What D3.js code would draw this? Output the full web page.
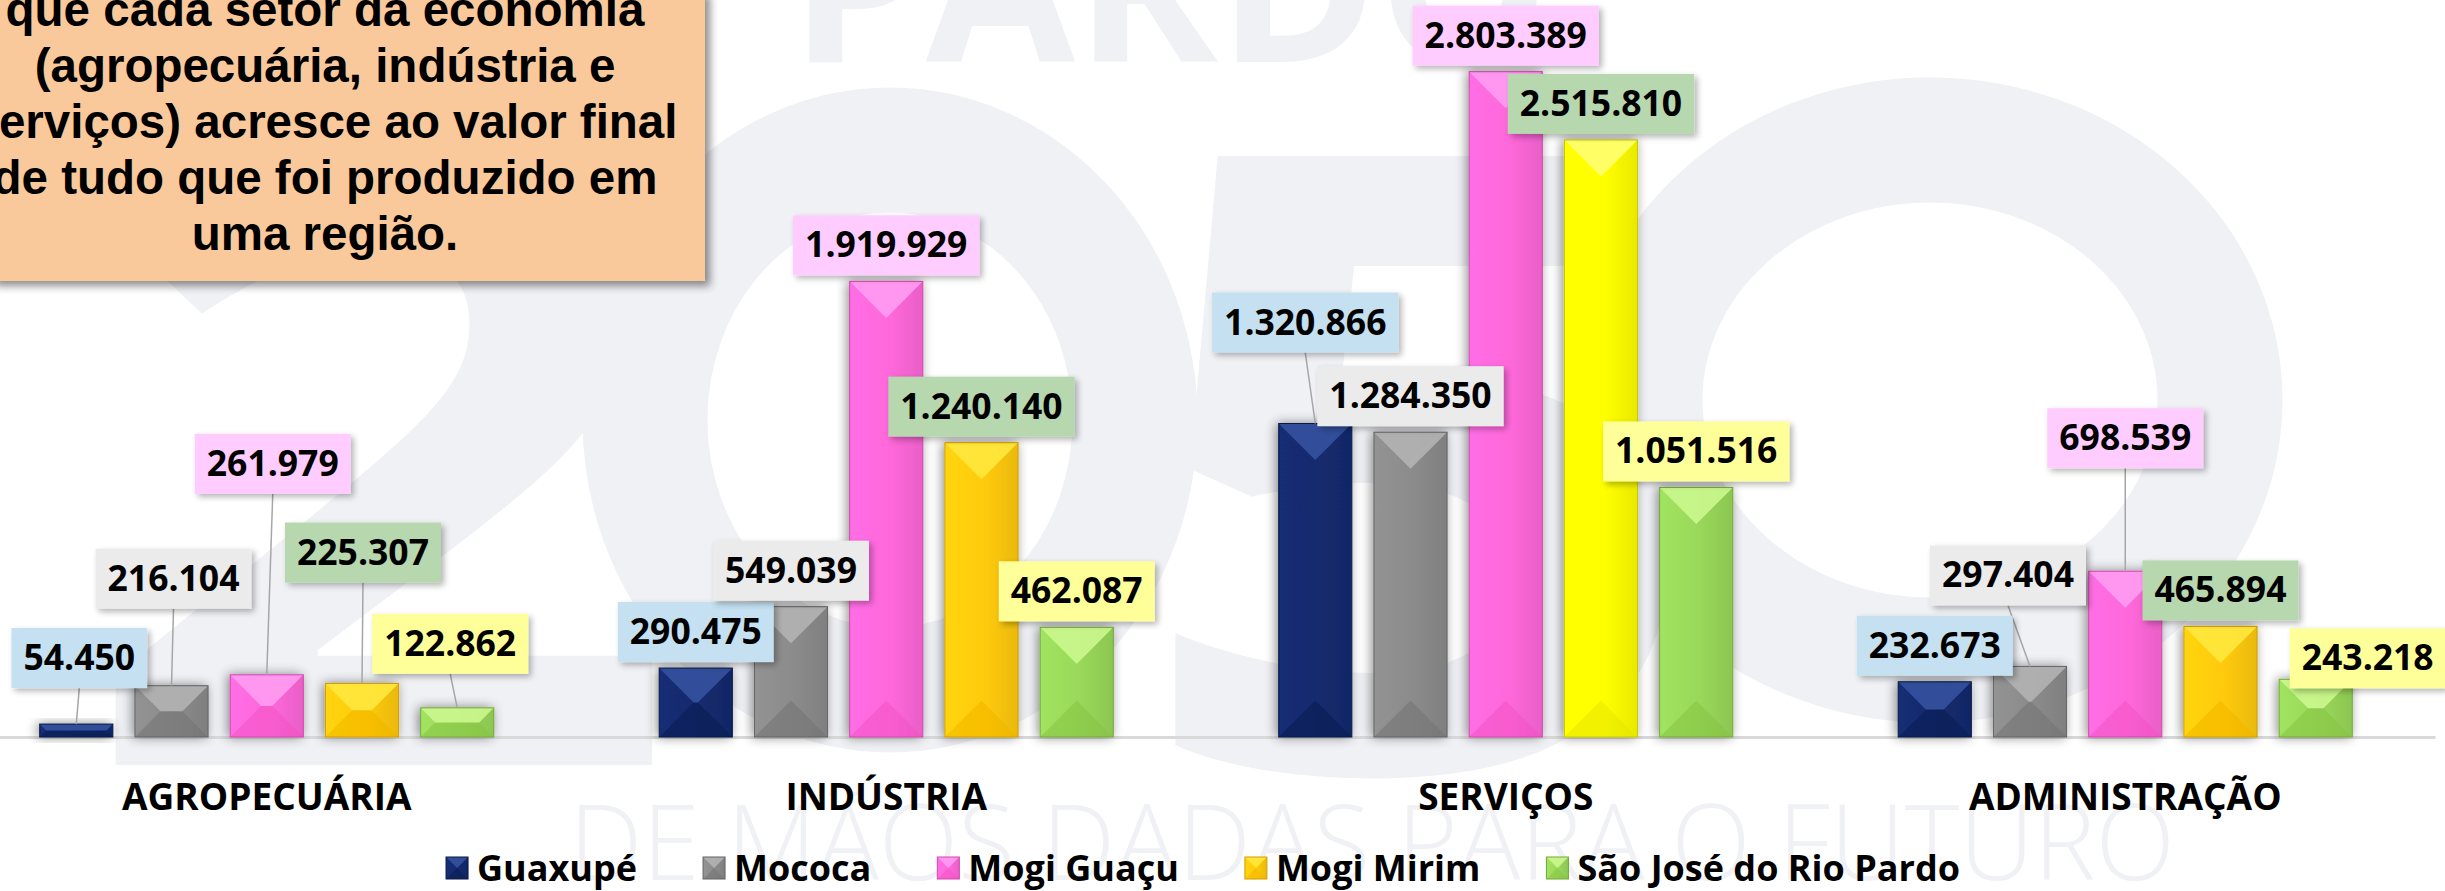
<!DOCTYPE html>
<html>
<head>
<meta charset="utf-8">
<script src="https://cdn.jsdelivr.net/npm/d3@7"></script>
<style>
  body { margin: 0; background: #fff; }
  svg { display: block; }
</style>
</head>
<body>
<svg id="chart"></svg>
<script>
// data
const categories = ["AGROPECUÁRIA", "INDÚSTRIA", "SERVIÇOS", "ADMINISTRAÇÃO"];
const cities = ["Guaxupé", "Mococa", "Mogi Guaçu", "Mogi Mirim", "São José do Rio Pardo"];
const guaxupe = [54450, 290475, 1320866, 232673];
const mococa = [216104, 549039, 1284350, 297404];
const mogiGuacu = [261979, 1919929, 2803389, 698539];
const mogiMirim = [225307, 1240140, 2515810, 465894];
const saoJose = [122862, 462087, 1051516, 243218];
const noteLines = [
  "que cada setor da economia",
  "(agropecuária, indústria e",
  "serviços) acresce ao valor final",
  "de tudo que foi produzido em",
  "uma região."
];

const series = [guaxupe, mococa, mogiGuacu, mogiMirim, saoJose];

// styles
const W = 2445, H = 891;
const barColors = {
  "Guaxupé":               { key: "c0", base: "#132B6E", top: "#34529F", bottom: "#0B1D50" },
  "Mococa":                { key: "c1", base: "#8B8B8B", top: "#B2B2B2", bottom: "#727272" },
  "Mogi Guaçu":            { key: "c2", base: "#FF68DA", top: "#FF9CF2", bottom: "#F252C4" },
  "Mogi Mirim":            { key: "c3", base: "#FFCA0C", top: "#FFE83C", bottom: "#F2B600" },
  "São José do Rio Pardo": { key: "c4", base: "#99D85A", top: "#CBF78E", bottom: "#86C244" }
};
// the services bar of Mogi Mirim is plain yellow in the original
const pointColor = { "SERVIÇOS|Mogi Mirim": { key: "c5", base: "#FFFF00", top: "#FFFF70", bottom: "#E6E600" } };
const labelFill = {
  "Guaxupé": "#C4E0F1",
  "Mococa": "#EBEBEB",
  "Mogi Guaçu": "#FFCCFF",
  "Mogi Mirim": "#B7D7AF",
  "São José do Rio Pardo": "#FFFF9A"
};
// manual label moves [dx, raise] per city, per category
const labelNudge = {
  "Guaxupé":               [[3, 30], [0, 0], [-10, 65], [0, 0]],
  "Mococa":                [[2, 71], [0, 0], [0, 0], [-22, 55]],
  "Mogi Guaçu":            [[6, 175], [0, 0], [0, 0], [0, 97]],
  "Mogi Mirim":            [[1, 95], [0, 0], [0, 0], [0, 0]],
  "São José do Rio Pardo": [[-7, 28], [0, 0], [0, 0], [52, -15]]
};

const fmt = d3.formatLocale({ decimal: ",", thousands: ".", grouping: [3], currency: ["R$", ""] }).format(",d");

const svg = d3.select("#chart").attr("width", W).attr("height", H);
const defs = svg.append("defs");

function shadowFilter(id, dx, dy, sd, slope) {
  const f = defs.append("filter").attr("id", id)
    .attr("x", "-40%").attr("y", "-40%").attr("width", "180%").attr("height", "180%");
  f.append("feGaussianBlur").attr("in", "SourceAlpha").attr("stdDeviation", sd).attr("result", "b");
  f.append("feOffset").attr("in", "b").attr("dx", dx).attr("dy", dy).attr("result", "o");
  f.append("feComponentTransfer").attr("in", "o").attr("result", "s")
    .append("feFuncA").attr("type", "linear").attr("slope", slope);
  const m = f.append("feMerge");
  m.append("feMergeNode").attr("in", "s");
  m.append("feMergeNode").attr("in", "SourceGraphic");
}
shadowFilter("barShadow", -2, 0, 6, 0.45);
shadowFilter("boxShadow", 3, 3, 3, 0.3);
shadowFilter("noteShadow", 5, 5, 4, 0.45);

// horizontal shading for the bar bodies
Object.values(barColors).concat(Object.values(pointColor)).forEach(c => {
  const gr = defs.append("linearGradient").attr("id", "g-" + c.key)
    .attr("x1", 0).attr("x2", 1).attr("y1", 0).attr("y2", 0);
  gr.append("stop").attr("offset", "0%").attr("stop-color", d3.color(c.base).brighter(0.15));
  gr.append("stop").attr("offset", "55%").attr("stop-color", c.base);
  gr.append("stop").attr("offset", "100%").attr("stop-color", d3.color(c.base).darker(0.25));
});

// watermark
const wm = svg.append("g").attr("fill", "#F0F1F5").attr("font-family", "Open Sans").attr("font-weight", 700);
wm.append("text").attr("x", 790).attr("y", 62).attr("font-size", 210)
  .attr("textLength", 760).attr("lengthAdjust", "spacingAndGlyphs").text("PARDO");
wm.append("text").attr("transform", "translate(380,765) scale(1.25,1)").attr("text-anchor", "middle")
  .attr("font-size", 860).text("2");
wm.append("text").attr("transform", "translate(1420,770) scale(1.2,1)").attr("text-anchor", "middle")
  .attr("font-size", 860).text("5");
wm.append("ellipse").attr("cx", 890).attr("cy", 420).attr("rx", 245).attr("ry", 270)
  .attr("fill", "none").attr("stroke", "#F0F1F5").attr("stroke-width", 125);
wm.append("ellipse").attr("cx", 1930).attr("cy", 400).attr("rx", 290).attr("ry", 260)
  .attr("fill", "none").attr("stroke", "#F0F1F5").attr("stroke-width", 125);
wm.append("text").attr("x", 569).attr("y", 880).attr("font-size", 106).attr("font-weight", 300)
  .attr("textLength", 1606).attr("lengthAdjust", "spacingAndGlyphs").text("DE MÃOS DADAS PARA O FUTURO");

// note box
svg.append("rect").attr("x", -10).attr("y", -10).attr("width", 715).attr("height", 291)
  .attr("fill", "#FAC99B").attr("filter", "url(#noteShadow)");
svg.append("g").selectAll("text").data(noteLines).enter().append("text")
  .attr("x", 325).attr("y", (d, i) => 26 + i * 56)
  .attr("text-anchor", "middle")
  .style("font-family", "'Liberation Sans', Arial, sans-serif")
  .style("font-weight", "bold").style("font-size", "47.5px")
  .attr("fill", "#000").text(d => d);

// scales
const x0 = d3.scaleBand().domain(categories).range([-43, 2435]).paddingInner(0.267).paddingOuter(0.1335);
const x1 = d3.scaleBand().domain(cities).range([0, x0.bandwidth()]).paddingInner(0.232);
const y = d3.scaleLinear().domain([0, 3000000]).range([737, 25]);

const xAxis = svg.append("g").attr("transform", "translate(0," + y(0) + ")")
  .call(d3.axisBottom(x0).tickSize(0).tickSizeOuter(0));
xAxis.select(".domain").attr("stroke", "#D9D9D9").attr("stroke-width", 3);
xAxis.selectAll("text")
  .attr("y", 73).attr("dy", 0)
  .attr("fill", "#000")
  .style("font-family", "'Open Sans', sans-serif")
  .style("font-weight", "bold").style("font-size", "37px");

function bevel(sel, x, yTop, w, h, c) {
  const d = Math.min(w, h) / 2;
  const ix0 = x + d, ix1 = x + w - d, iy0 = yTop + d, iy1 = yTop + h - d;
  sel.append("rect").attr("x", x).attr("y", yTop).attr("width", w).attr("height", h)
    .attr("fill", "url(#g-" + c.key + ")");
  const faces = [
    { pts: [[x, yTop + h], [x + w, yTop + h], [ix1, iy1], [ix0, iy1]], fill: c.bottom, op: 0.55 },
    { pts: [[x, yTop], [x + w, yTop], [ix1, iy0], [ix0, iy0]], fill: c.top, op: 0.9 }
  ];
  sel.selectAll("path.face").data(faces).enter().append("path")
    .attr("class", "face")
    .attr("d", f => "M" + f.pts.map(p => p.join(",")).join("L") + "Z")
    .attr("fill", f => f.fill).attr("fill-opacity", f => f.op);
  sel.append("rect").attr("x", x).attr("y", yTop).attr("width", w).attr("height", h)
    .attr("fill", "none").attr("stroke", d3.color(c.bottom).darker(0.4)).attr("stroke-width", 1);
}

// bars
const rows = [];
categories.forEach((cat, ci) => {
  cities.forEach((city, si) => {
    rows.push({ cat, ci, city, value: series[si][ci] });
  });
});

const barLayer = svg.append("g");
rows.forEach(r => {
  const bx = x0(r.cat) + x1(r.city);
  const c = pointColor[r.cat + "|" + r.city] || barColors[r.city];
  const g = barLayer.append("g").attr("filter", "url(#barShadow)");
  bevel(g, bx, y(r.value), x1.bandwidth(), y(0) - y(r.value), c);
});

// data labels
const lineLayer = svg.append("g");
const labelLayer = svg.append("g");
rows.forEach(r => {
  const barCx = x0(r.cat) + x1(r.city) + x1.bandwidth() / 2;
  const nudge = labelNudge[r.city][r.ci];
  const cx = barCx + nudge[0];
  const bottom = y(r.value) - 6 - nudge[1];
  const boxH = 60;
  const g = labelLayer.append("g");
  const t = g.append("text")
    .attr("x", cx).attr("y", bottom - boxH + 42)
    .attr("text-anchor", "middle")
    .style("font-family", "'Open Sans', sans-serif")
    .style("font-weight", "bold").style("font-size", "35.5px")
    .attr("fill", "#000").text(fmt(r.value));
  const tw = t.node().getComputedTextLength();
  g.insert("rect", "text")
    .attr("x", cx - tw / 2 - 12).attr("y", bottom - boxH)
    .attr("width", tw + 24).attr("height", boxH)
    .attr("fill", labelFill[r.city]).attr("filter", "url(#boxShadow)");
  if (nudge[1] > 15) {
    lineLayer.append("line")
      .attr("x1", cx).attr("y1", bottom)
      .attr("x2", barCx).attr("y2", y(r.value))
      .attr("stroke", "#A6A6A6").attr("stroke-width", 1.5);
  }
});

// legend
const legend = svg.append("g");
const legendItems = legend.selectAll("g").data(cities).enter().append("g");
legendItems.each(function (city) {
  const g = d3.select(this);
  bevel(g.append("g"), 0, 857, 22, 22, barColors[city]);
  g.append("text").attr("x", 31).attr("y", 881)
    .style("font-family", "'Open Sans', sans-serif")
    .style("font-weight", "bold").style("font-size", "36px")
    .attr("fill", "#000").text(city);
});
const widths = [];
legendItems.each(function () {
  widths.push(31 + d3.select(this).select("text").node().getComputedTextLength());
});
const legendGap = 66;
const totalW = d3.sum(widths) + legendGap * (widths.length - 1);
let lx = 1203 - totalW / 2;
legendItems.attr("transform", (d, i) => {
  const tx = lx;
  lx += widths[i] + legendGap;
  return "translate(" + tx + ",0)";
});
</script>
</body>
</html>
